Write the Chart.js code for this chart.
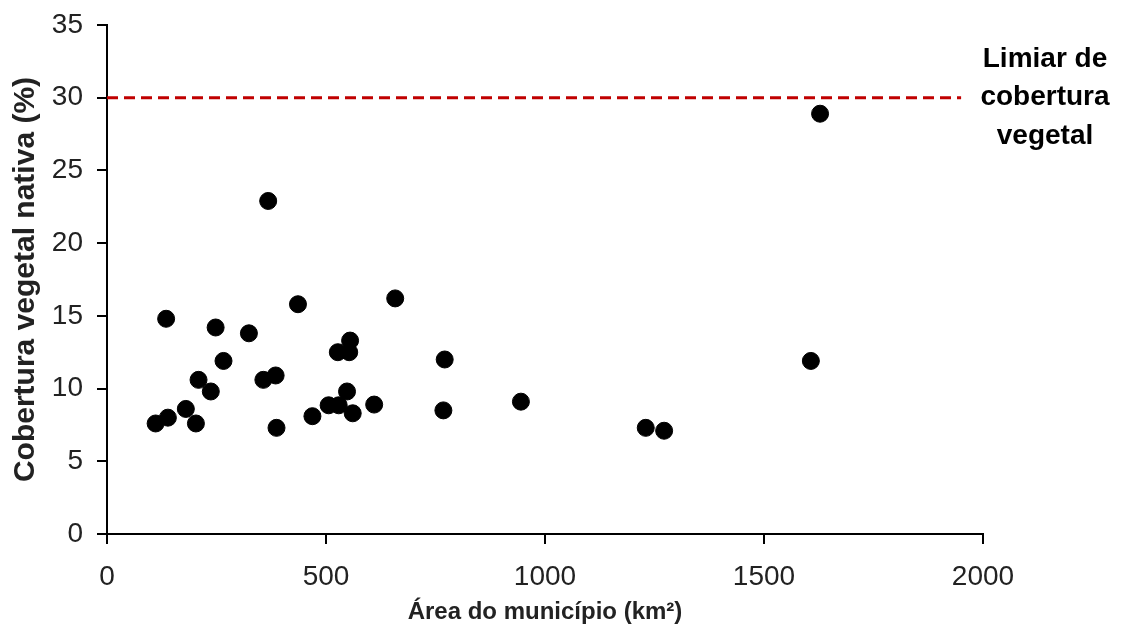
<!DOCTYPE html>
<html>
<head>
<meta charset="utf-8">
<script src="https://cdn.jsdelivr.net/npm/chart.js@4.4.0/dist/chart.umd.min.js"></script>
<style>
  html, body { margin: 0; padding: 0; background: #fff; }
  #wrap { width: 1121px; height: 635px; position: relative; }
</style>
</head>
<body>
<div id="wrap"><canvas id="chart"></canvas></div>
<script>
"use strict";

// área do município (km²)
const AREA = [
  111, 139, 135, 180, 203, 209, 237, 248, 266, 324,
  357, 368, 385, 387, 436, 469, 506, 529, 527, 553,
  555, 548, 561, 610, 658, 771, 768, 945, 1230, 1272,
  1607, 1628,
];
// cobertura vegetal nativa (%)
const COBERTURA = [
  7.6, 8.0, 14.8, 8.6, 7.6, 10.6, 9.8, 14.2, 11.9, 13.8,
  10.6, 22.9, 10.9, 7.3, 15.8, 8.1, 8.85, 8.85, 12.5, 12.5,
  13.3, 9.8, 8.3, 8.9, 16.2, 12.0, 8.5, 9.1, 7.3, 7.1,
  11.9, 28.9,
];
// limiar de 30%
const LIMIAR_X = [0, 1950];
const LIMIAR_Y = 30;
const LIMIAR_TEXTO = ["Limiar de", "cobertura", "vegetal"];

const X_TICKS = [0, 500, 1000, 1500, 2000];
const Y_TICKS = [0, 5, 10, 15, 20, 25, 30, 35];

const FONT = "Arial, 'Liberation Sans', sans-serif";

const pontos = AREA.map((a, i) => ({ x: a, y: COBERTURA[i] }));
const limiar = LIMIAR_X.map((x) => ({ x, y: LIMIAR_Y }));

// texto ao lado da linha tracejada
const labelPlugin = {
  id: "limiarLabel",
  afterDraw(chart) {
    const { ctx, scales } = chart;
    const y = scales.y.getPixelForValue(LIMIAR_Y);
    ctx.save();
    ctx.font = "bold 28px " + FONT;
    ctx.fillStyle = "#000";
    ctx.textAlign = "center";
    ctx.textBaseline = "middle";
    LIMIAR_TEXTO.forEach((t, i) => {
      ctx.fillText(t, 1045, y + (i - 1) * 38.5);
    });
    ctx.restore();
  },
};

new Chart(document.getElementById("chart"), {
  type: "scatter",
  data: {
    datasets: [
      {
        data: pontos,
        backgroundColor: "#000",
        borderColor: "#000",
        pointRadius: 8.5,
        pointHoverRadius: 8.5,
      },
      {
        type: "line",
        data: limiar,
        borderColor: "#c00000",
        borderWidth: 3,
        borderDash: [11, 6],
        pointRadius: 0,
        fill: false,
      },
    ],
  },
  options: {
    responsive: true,
    maintainAspectRatio: false,
    animation: false,
    layout: { padding: { left: 0, right: 138, top: 0, bottom: 0 } },
    plugins: { legend: { display: false }, tooltip: { enabled: false } },
    scales: {
      x: {
        type: "linear",
        min: 0,
        max: 2000,
        afterBuildTicks: (s) => { s.ticks = X_TICKS.map((v) => ({ value: v })); },
        afterFit: (s) => { s.height = 101; },
        grid: { drawOnChartArea: false, drawTicks: true, tickLength: 10, color: "#000", lineWidth: 2 },
        border: { color: "#000", width: 2 },
        ticks: {
          color: "#222",
          font: { family: FONT, size: 28 },
          padding: 16,
          maxRotation: 0,
          callback: (v) => String(v),
        },
        title: {
          display: true,
          text: "Área do município (km²)",
          color: "#222",
          font: { family: FONT, size: 24, weight: "bold" },
          padding: { top: 0, bottom: 8 },
        },
      },
      y: {
        min: 0,
        max: 35,
        afterBuildTicks: (s) => { s.ticks = Y_TICKS.map((v) => ({ value: v })); },
        afterFit: (s) => { s.width = 107; s.paddingTop = 25; },
        grid: { drawOnChartArea: false, drawTicks: true, tickLength: 10, color: "#000", lineWidth: 2 },
        border: { color: "#000", width: 2 },
        ticks: { color: "#222", font: { family: FONT, size: 28 }, padding: 14 },
        title: {
          display: true,
          text: "Cobertura vegetal nativa (%)",
          color: "#222",
          font: { family: FONT, size: 30, weight: "bold" },
          padding: { top: 8, bottom: 0 },
        },
      },
    },
  },
  plugins: [labelPlugin],
});
</script>
</body>
</html>
